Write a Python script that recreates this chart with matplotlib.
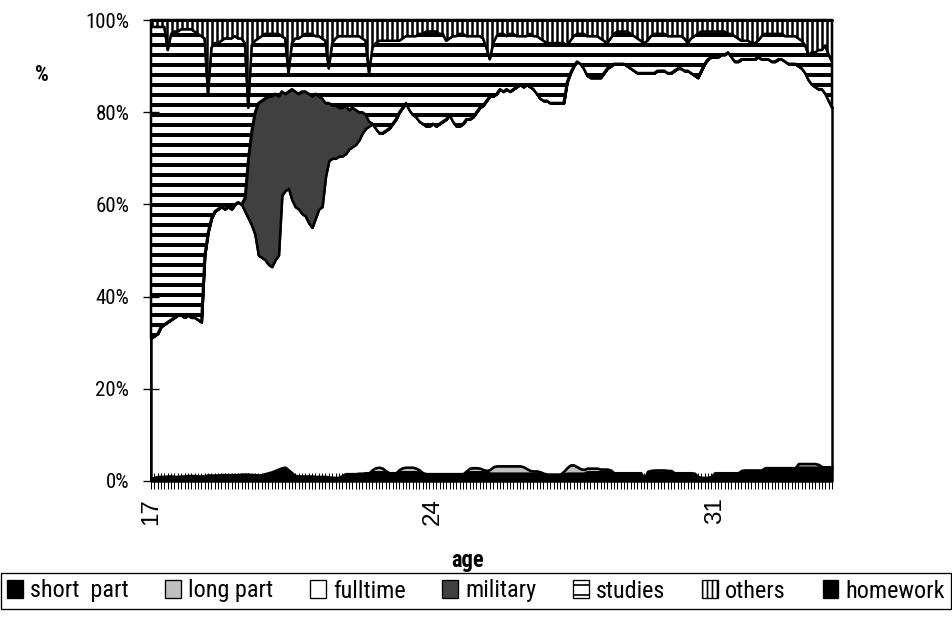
import numpy as np
import matplotlib.pyplot as plt
from matplotlib.patches import Patch

plt.rcParams['font.family'] = ['Roboto Condensed', 'Liberation Sans', 'DejaVu Sans']

# monthly shares (%) from age 17, one row per year of age
first_age = 17
tick_ages = [17, 24, 31]
series_names = ['short  part', 'long part', 'fulltime', 'military', 'studies', 'others', 'homework']

short_part = [
    0.5, 0.8, 1.0, 1.0, 1.0, 1.1, 1.1, 1.0, 1.0, 1.1, 1.1, 1.2,
    1.2, 1.2, 1.1, 1.1, 1.2, 1.3, 1.3, 1.3, 1.3, 1.4, 1.4, 1.4,
    1.4, 1.4, 1.4, 1.5, 1.5, 1.5, 1.4, 1.4, 1.3, 1.4, 1.6, 1.8,
    2.0, 2.0, 2.2, 2.4, 2.4, 2.0, 1.6, 1.2, 1.1, 1.1, 1.1, 1.1,
    1.1, 1.0, 1.0, 1.0, 1.0, 0.9, 0.8, 0.8, 0.8, 1.2, 1.6, 1.6,
    1.6, 1.6, 1.7, 1.7, 1.8, 1.8, 2.0, 2.0, 2.0, 2.0, 1.8, 1.8,
    1.8, 1.8, 2.0, 2.0, 2.0, 2.0, 2.0, 2.0, 2.0, 1.8, 1.6, 1.6,
    1.6, 1.6, 1.6, 1.6, 1.6, 1.6, 1.6, 1.6, 1.6, 1.6, 1.8, 2.0,
    2.0, 2.0, 2.0, 2.0, 2.0, 1.7, 1.7, 1.7, 1.7, 1.7, 1.7, 1.7,
    1.7, 1.7, 1.7, 1.7, 1.7, 1.7, 1.6, 1.6, 1.5, 1.4, 1.3, 1.3,
    1.3, 1.3, 1.3, 1.5, 1.7, 1.7, 1.7, 1.7, 1.7, 1.7, 2.0, 2.0,
    2.0, 2.0, 2.0, 2.0, 2.0, 2.0, 1.6, 1.6, 1.6, 1.6, 1.6, 1.6,
    1.6, 1.6, 1.6, 0.5, 1.8, 1.8, 1.8, 1.8, 1.8, 1.8, 1.8, 1.8,
    1.6, 1.6, 1.6, 1.6, 1.6, 1.6, 1.6, 1.0, 0.8, 0.8, 0.8, 1.0,
    1.6, 1.6, 1.6, 1.6, 1.6, 1.6, 1.6, 1.6, 2.0, 2.0, 2.0, 2.0,
    2.0, 2.0, 2.0, 2.4, 2.4, 2.4, 2.4, 2.4, 2.4, 2.4, 2.4, 2.4,
    2.4, 3.0, 3.0, 3.0, 3.0, 3.0, 3.0, 3.0, 2.6, 2.6, 2.6, 2.6,
]

long_part = [
    0, 0, 0, 0, 0, 0, 0, 0, 0, 0, 0, 0,
    0, 0, 0, 0, 0, 0, 0, 0, 0, 0, 0, 0,
    0, 0, 0, 0, 0, 0, 0, 0, 0, 0, 0, 0,
    0, 0.3, 0.4, 0.5, 0.6, 0.4, 0.2, 0, 0, 0, 0, 0,
    0, 0, 0, 0, 0, 0, 0, 0, 0, 0, 0, 0,
    0, 0, 0, 0, 0, 0, 0.5, 0.9, 1.0, 0.8, 0.4, 0,
    0, 0, 0.5, 0.9, 1.0, 1.0, 1.0, 0.8, 0.4, 0, 0, 0,
    0, 0, 0, 0, 0, 0, 0, 0, 0, 0, 0.4, 0.8,
    0.9, 0.9, 0.8, 0.5, 0.3, 0.8, 1.4, 1.6, 1.6, 1.6, 1.6, 1.6,
    1.6, 1.6, 1.6, 1.4, 1.0, 0.6, 0.6, 0.6, 0.5, 0.3, 0.2, 0.2,
    0.2, 0.2, 0.2, 0.6, 1.2, 1.8, 1.8, 1.4, 1.0, 0.8, 0.8, 0.8,
    0.8, 0.8, 0.6, 0.6, 0.6, 0.4, 0.2, 0.2, 0.2, 0.2, 0.2, 0.2,
    0.2, 0.2, 0.2, 0, 0.3, 0.5, 0.6, 0.6, 0.6, 0.6, 0.5, 0.5,
    0.2, 0.2, 0.2, 0.2, 0.2, 0.2, 0.1, 0, 0, 0, 0, 0,
    0.2, 0.2, 0.2, 0.2, 0.2, 0.2, 0.2, 0.2, 0.3, 0.4, 0.4, 0.4,
    0.4, 0.4, 0.4, 0.5, 0.5, 0.5, 0.5, 0.5, 0.5, 0.5, 0.5, 0.5,
    0.5, 0.8, 0.8, 0.8, 0.8, 0.8, 0.8, 0.6, 0.5, 0.5, 0.5, 0.5,
]

# cumulative share up to and including fulltime work
fulltime_top = [
    31, 31.5, 32, 33.5, 34, 34.5, 35, 35.5, 36, 36, 35.5, 36,
    35.5, 35.5, 35, 34.5, 49, 54, 57, 58.5, 59, 59.5, 59, 59.5,
    59, 60, 60.5, 60, 58.5, 57, 55.5, 53.5, 49, 48.5, 48, 47,
    46.5, 48, 49, 62, 63, 63.5, 61, 59.5, 59, 58, 57.5, 56,
    55, 57, 59, 59.5, 66, 69.5, 70, 70, 70.5, 70.5, 71, 72,
    72.5, 73, 74, 75.5, 76.5, 77, 77.5, 76.5, 75.5, 75.5, 76, 76.5,
    77.5, 78.5, 80, 81, 82, 80.5, 79.5, 79, 78, 77.5, 77, 77,
    77.5, 77, 77.5, 78, 78.5, 79.5, 78, 77, 77, 77.5, 78.5, 78.5,
    79, 80, 81, 81.5, 82.5, 83.5, 83.5, 84, 85, 84.5, 85, 84.5,
    85, 85.5, 86, 85.5, 86, 85.5, 85, 84, 83, 82.5, 82.5, 82,
    82, 82, 82, 82, 86.5, 88.5, 90, 91, 90.5, 89.5, 88, 87.5,
    87.5, 87.5, 87.5, 88.5, 89.5, 90, 90.5, 90.5, 90.5, 90.5, 90, 89.5,
    89, 88.5, 88.5, 88.5, 88.5, 88.5, 88.5, 89, 89, 89, 88.5, 88.5,
    89, 89.5, 89.5, 89, 89, 88.5, 88, 87.5, 89, 90.5, 91.5, 92,
    92, 92, 92.5, 92.5, 93, 92, 91, 91, 91.5, 91.5, 91.5, 91.5,
    91.5, 92, 91.5, 91.5, 91.5, 91, 91, 91.5, 91.5, 91, 90.5, 90.5,
    90.5, 90, 89.5, 88.5, 87, 86, 85.5, 85, 85, 84, 82.5, 81,
]

# cumulative share up to and including military service (months 28..65)
military_from = 28
military_top = [
    61.5, 70, 76, 80, 82, 82.5, 83, 83.5, 83.5, 84, 83.5, 84.5,
    84, 84.5, 85, 84.5, 84, 84.5, 84.5, 84, 83.5, 84, 83.5, 83,
    82, 82, 81.5, 81.5, 81, 81, 81.5, 80.5, 81, 80.5, 80, 80,
    79.5, 78,
]

# cumulative share up to and including studies
studies_top = [
    98.5, 98.5, 98.5, 98.5, 98.5, 93.5, 97, 97.5, 97.5, 98, 98, 98,
    98, 97.5, 97, 96.5, 96, 84, 94, 95, 95, 95.5, 96, 96,
    96, 96.5, 96, 96, 95, 81, 94.5, 95.5, 96, 96.5, 97, 97,
    97, 97, 97, 96.5, 96, 88.5, 95, 96, 96, 96.5, 97, 97,
    97, 96.5, 96.5, 96, 95.5, 89.5, 95, 96, 96.5, 96.5, 96.5, 96.5,
    96.5, 96.5, 96.5, 96, 95.5, 88.5, 94, 95, 95.5, 95.5, 95.5, 95.5,
    95.5, 95.5, 95.5, 96, 96.5, 96.5, 96.5, 96.5, 97, 97, 97.5, 97.5,
    97.5, 97.5, 97, 97, 95.5, 96, 96.5, 96.5, 97, 97, 96.5, 96.5,
    96.5, 96.5, 96.5, 96, 94, 91.5, 95, 96.5, 97, 97, 96.5, 97,
    97, 96.5, 96.5, 96.5, 96.5, 97, 96.5, 96.5, 96, 95.5, 95, 95,
    95, 95, 95, 95, 94.5, 95.5, 96.5, 97, 97, 97, 96.5, 96.5,
    96.5, 96.5, 96, 95.5, 95, 96, 97, 97.5, 97.5, 97.5, 97.5, 97,
    96.5, 96, 95.5, 95, 95.5, 96.5, 97, 97, 97, 97, 96.5, 96.5,
    96.5, 96.5, 96.5, 96, 95, 96, 96.5, 97, 97.5, 97.5, 97.5, 97.5,
    97.5, 97.5, 97.5, 97.5, 97, 97, 96.5, 96, 95.5, 95.5, 95.5, 95,
    95, 95.5, 96.5, 97, 97, 97, 97, 97, 97, 96.5, 96.5, 96.5,
    96.5, 96, 95.5, 94.5, 92.5, 93, 93, 93.5, 93.5, 94.5, 92.5, 91,
]

# homework share stays at zero over the whole span
homework = [0.0] * len(studies_top)

# turn the cumulative edges into the share of each status
months = np.arange(len(studies_top))
short = np.array(short_part)
longp = np.array(long_part)
ft_top = np.array(fulltime_top, dtype=float)
mil_top = ft_top.copy()
mil_top[military_from:military_from + len(military_top)] = military_top
st_top = np.array(studies_top)
hw = np.array(homework)

shares = [
    short,
    longp,
    ft_top - short - longp,
    mil_top - ft_top,
    st_top - mil_top,
    100 - st_top - hw,
    hw,
]

colors = ['black', '#c0c0c0', 'white', '#404040', 'white', 'white', 'black']
hatches = [None, None, None, None, '--', '||||', None]
hatch_widths = [1.0, 1.0, 1.0, 1.0, 2.4, 1.5, 1.0]

dpi = 120
fig = plt.figure(figsize=(952 / dpi, 626 / dpi), dpi=dpi)
ax = fig.add_axes([151 / 952, 1 - 481 / 626, 681 / 952, 461 / 626])

polys = ax.stackplot(months, *shares, colors=colors, hatch=hatches,
                     edgecolor='black', linewidth=1.5)
for p, hw_ in zip(polys, hatch_widths):
    p.set_clip_on(False)
    if hasattr(p, 'set_hatch_linewidth'):
        p.set_hatch_linewidth(hw_)

ax.set_xlim(0, months[-1])
ax.set_ylim(0, 100)

# a tick for every month, labels only at the chosen ages
label_at = {12 * (a - first_age): str(a) for a in tick_ages}
ax.set_xticks(months)
ax.set_xticklabels([label_at.get(m, '') for m in months], rotation=90,
                   family='Liberation Sans', fontsize=14.5)
ax.set_yticks(range(0, 101, 20))
ax.set_yticklabels([f'{v}%' for v in range(0, 101, 20)], fontsize=12.5)
ax.tick_params(axis='x', direction='inout', length=10, width=0.6, pad=5)
ax.tick_params(axis='y', direction='inout', length=10, width=0.8, pad=8)

for side in ['top', 'right']:
    ax.spines[side].set_visible(False)
ax.spines['left'].set_linewidth(1.2)
ax.spines['bottom'].set_linewidth(1.0)

fig.text(42 / 952, 1 - 75 / 626, '%', fontsize=13, fontweight='bold', ha='center', va='center')
fig.text(468 / 952, 1 - 561 / 626, 'age', fontsize=13.5, fontweight='bold', ha='center', va='center')

handles = [Patch(facecolor=c, edgecolor='black', hatch=h, linewidth=0.8)
           for c, h in zip(colors, hatches)]
leg = fig.legend(handles, series_names, loc='center',
                 bbox_to_anchor=(0.001, 1 - 610 / 626, 0.998, 38 / 626),
                 bbox_transform=fig.transFigure, mode='expand', ncol=7,
                 fancybox=False, edgecolor='black', framealpha=1,
                 handlelength=0.65, handleheight=0.75, handletextpad=0.3,
                 borderpad=0.25, borderaxespad=0, fontsize=14.5)
leg.get_frame().set_linewidth(0.8)

fig.savefig('out.png', dpi=dpi)
